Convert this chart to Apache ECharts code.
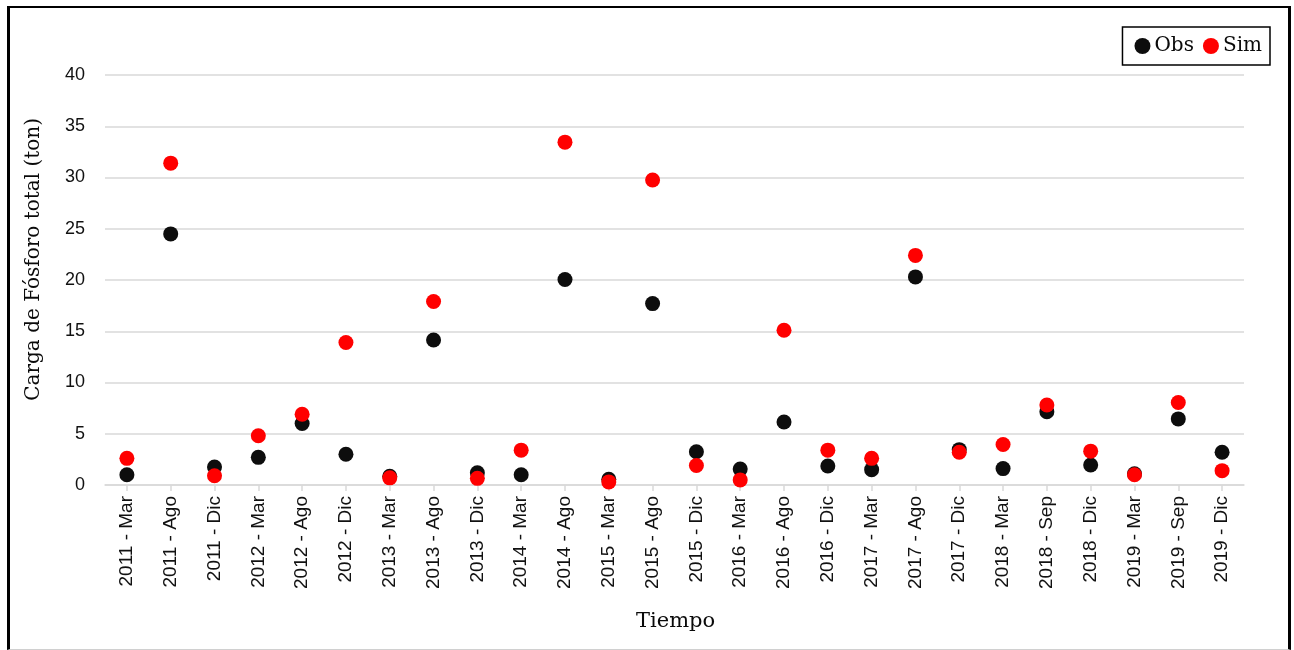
<!DOCTYPE html>
<html>
<head>
<meta charset="utf-8">
<script src="https://cdn.jsdelivr.net/npm/echarts@6/dist/echarts.min.js"></script>
<style>
  html, body { margin: 0; padding: 0; background: #fff; }
  #wrap { position: relative; width: 1294px; height: 650px; }
  #chart { position: absolute; left: 0; top: 0; width: 1294px; height: 650px; }
  #frame {
    position: absolute; left: 7px; top: 6px; width: 1278px; height: 641px;
    border-left: 3px solid #000; border-top: 2px solid #000; border-right: 3px solid #000;
    border-bottom: 1px solid #d0d0d0; pointer-events: none;
  }
</style>
</head>
<body>
<div id="wrap">
  <div id="chart"></div>
  <div id="frame"></div>
</div>
<script>
// Sampling dates (year - month)
const categories = [
  '2011 - Mar', '2011 - Ago', '2011 - Dic', '2012 - Mar', '2012 - Ago', '2012 - Dic',
  '2013 - Mar', '2013 - Ago', '2013 - Dic', '2014 - Mar', '2014 - Ago', '2015 - Mar',
  '2015 - Ago', '2015 - Dic', '2016 - Mar', '2016 - Ago', '2016 - Dic', '2017 - Mar',
  '2017 - Ago', '2017 - Dic', '2018 - Mar', '2018 - Sep', '2018 - Dic', '2019 - Mar',
  '2019 - Sep', '2019 - Dic'
];

// Observed total phosphorus load (ton)
const obsValues = [
  1.0, 24.5, 1.75, 2.7, 6.0, 3.0,
  0.85, 14.15, 1.2, 1.0, 20.05, 0.55,
  17.7, 3.25, 1.55, 6.15, 1.85, 1.5,
  20.3, 3.45, 1.6, 7.15, 1.95, 1.1,
  6.45, 3.2
];

// Simulated total phosphorus load (ton)
const simValues = [
  2.6, 31.4, 0.9, 4.8, 6.9, 13.9,
  0.7, 17.9, 0.65, 3.4, 33.45, 0.3,
  29.75, 1.9, 0.5, 15.1, 3.4, 2.6,
  22.4, 3.2, 3.95, 7.8, 3.3, 1.0,
  8.05, 1.4
];

const yTicks = { min: 0, max: 40, interval: 5 };

const serif = '"DejaVu Serif", "Liberation Serif", serif';
const sans = '"Liberation Sans", Arial, sans-serif';

const chart = echarts.init(document.getElementById('chart'), null, { renderer: 'canvas' });

chart.setOption({
  animation: false,
  backgroundColor: '#fff',
  grid: { left: 105, right: 50, top: 75, bottom: 165, containLabel: false },
  legend: {
    right: 24, top: 27,
    orient: 'horizontal',
    icon: 'circle',
    itemWidth: 16, itemHeight: 16, itemGap: 9,
    padding: [9, 8, 9, 12],
    borderColor: '#000', borderWidth: 1.5,
    textStyle: { fontFamily: serif, fontSize: 20, color: '#0a0a0a', padding: [0, 0, 0, -1] },
    data: ['Obs', 'Sim']
  },
  xAxis: {
    type: 'category',
    data: categories,
    boundaryGap: true,
    axisLine: { lineStyle: { color: '#d9d9d9', width: 1.5 } },
    axisTick: { show: true, alignWithLabel: true, length: 6, lineStyle: { color: '#d9d9d9', width: 1.5 } },
    axisLabel: {
      rotate: 90, interval: 0, margin: 11,
      fontFamily: sans, fontSize: 19, color: '#111'
    },
    splitLine: { show: false }
  },
  yAxis: {
    type: 'value',
    min: yTicks.min, max: yTicks.max, interval: yTicks.interval,
    axisLine: { show: false },
    axisTick: { show: false },
    axisLabel: { margin: 20, fontFamily: sans, fontSize: 18, color: '#111' },
    splitLine: { lineStyle: { color: '#d9d9d9', width: 1.5 } }
  },
  graphic: [
    {
      type: 'text',
      left: 24, top: 118,
      rotation: Math.PI / 2,
      style: {
        text: 'Carga de Fósforo total (ton)',
        font: '20px ' + serif,
        fill: '#0a0a0a'
      }
    },
    {
      type: 'text',
      left: 636, top: 611,
      style: { text: 'Tiempo', font: '21px ' + serif, fill: '#0a0a0a' }
    }
  ],
  series: [
    {
      name: 'Obs', type: 'scatter', data: obsValues,
      symbol: 'circle', symbolSize: 15,
      itemStyle: { color: '#0d0d0d', opacity: 1 }
    },
    {
      name: 'Sim', type: 'scatter', data: simValues,
      symbol: 'circle', symbolSize: 15,
      itemStyle: { color: '#ff0000', opacity: 1 }
    }
  ]
});
</script>
</body>
</html>
